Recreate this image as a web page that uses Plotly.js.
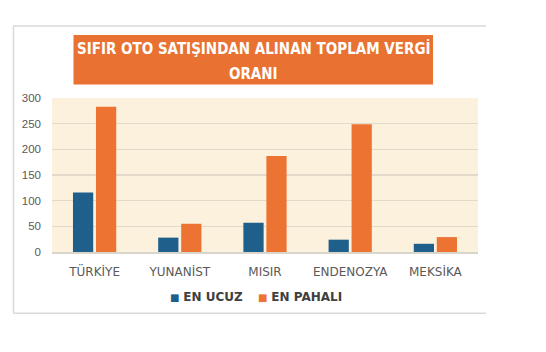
<!DOCTYPE html>
<html>
<head>
<meta charset="utf-8">
<script src="https://cdn.plot.ly/plotly-3.0.1.min.js"></script>
<style>html,body{margin:0;padding:0;background:#fff;}#chart{width:546px;height:352px;}</style>
</head>
<body>
<div id="chart"></div>
<script>
const categories = ["TÜRKİYE", "YUNANİST", "MISIR", "ENDENOZYA", "MEKSİKA"];
const seriesNames = ["EN UCUZ", "EN PAHALI"];
const enUcuz = [116, 28, 57, 24, 16];
const enPahali = [283, 55, 187, 249, 29];
const yTicks = [0, 50, 100, 150, 200, 250, 300];
const titleLines = ["SIFIR OTO SATIŞINDAN ALINAN TOPLAM VERGİ", "ORANI"];

const W = 546, H = 352;
const m = {l: 52, r: 68, t: 97.5, b: 100.3};
const pw = W - m.l - m.r, ph = H - m.t - m.b;
const px = x => (x - m.l) / pw;
const py = y => (H - m.b - y) / ph;

const blue = "#1f5f8b", orange = "#ed7333";

const traces = [
  {type: "bar", x: categories, y: enUcuz, name: seriesNames[0], marker: {color: blue}, showlegend: false},
  {type: "bar", x: categories, y: enPahali, name: seriesNames[1], marker: {color: orange}, showlegend: false}
];

const frameColor = "#d9d9d9";
const shapes = [
  {type: "line", xref: "paper", yref: "paper", x0: px(13.5), x1: px(486), y0: py(25.5), y1: py(25.5), line: {color: frameColor, width: 1.5}},
  {type: "line", xref: "paper", yref: "paper", x0: px(13.5), x1: px(486), y0: py(313), y1: py(313), line: {color: frameColor, width: 1.5}},
  {type: "line", xref: "paper", yref: "paper", x0: px(13.5), x1: px(13.5), y0: py(25.5), y1: py(313), line: {color: frameColor, width: 1.5}},
  {type: "rect", xref: "paper", yref: "paper", x0: px(73.5), x1: px(433), y0: py(34.5), y1: py(84), fillcolor: "#e97132", line: {width: 0}, layer: "below"}
];

const titleFont = {family: "DejaVu Sans Condensed, Liberation Sans, sans-serif", size: 15, color: "#ffffff", weight: 700};
const annotations = [
  {xref: "paper", yref: "paper", x: px(253.5), y: py(48), text: "<b>" + titleLines[0] + "</b>", showarrow: false, font: titleFont, xanchor: "center", yanchor: "middle"},
  {xref: "paper", yref: "paper", x: px(253.5), y: py(73), text: "<b>" + titleLines[1] + "</b>", showarrow: false, font: titleFont, xanchor: "center", yanchor: "middle"},
  {xref: "paper", yref: "paper", x: px(168), y: py(296.5), xanchor: "left", yanchor: "middle", showarrow: false,
   text: "<span style='color:" + blue + ";font-size:10px'>■</span> <b>" + seriesNames[0] + "</b>",
   font: {family: "DejaVu Sans, sans-serif", size: 12, color: "#404040"}},
  {xref: "paper", yref: "paper", x: px(255.5), y: py(296.5), xanchor: "left", yanchor: "middle", showarrow: false,
   text: "<span style='color:" + orange + ";font-size:10px'>■</span> <b>" + seriesNames[1] + "</b>",
   font: {family: "DejaVu Sans, sans-serif", size: 12, color: "#404040"}}
];

const layout = {
  width: W, height: H,
  margin: m,
  paper_bgcolor: "#ffffff",
  plot_bgcolor: "#fcf1dc",
  barmode: "group",
  bargap: 0.46,
  bargroupgap: 0.12,
  showlegend: false,
  xaxis: {
    type: "category",
    showline: true, linecolor: "#d9d4cc", linewidth: 1.5,
    ticks: "", ticklabelstandoff: 8,
    tickfont: {family: "DejaVu Sans, sans-serif", size: 12, color: "#595959"},
    showgrid: false
  },
  yaxis: {
    range: [0, 300],
    tickvals: yTicks,
    showgrid: true, gridcolor: "#e2d9ca", gridwidth: 1.5,
    zeroline: false,
    showline: false,
    ticks: "", ticklabelstandoff: 10,
    tickfont: {family: "Liberation Sans, Arial, sans-serif", size: 11.5, color: "#595959"}
  },
  shapes: shapes,
  annotations: annotations
};

Plotly.newPlot("chart", traces, layout, {displayModeBar: false, staticPlot: true});
</script>
</body>
</html>
